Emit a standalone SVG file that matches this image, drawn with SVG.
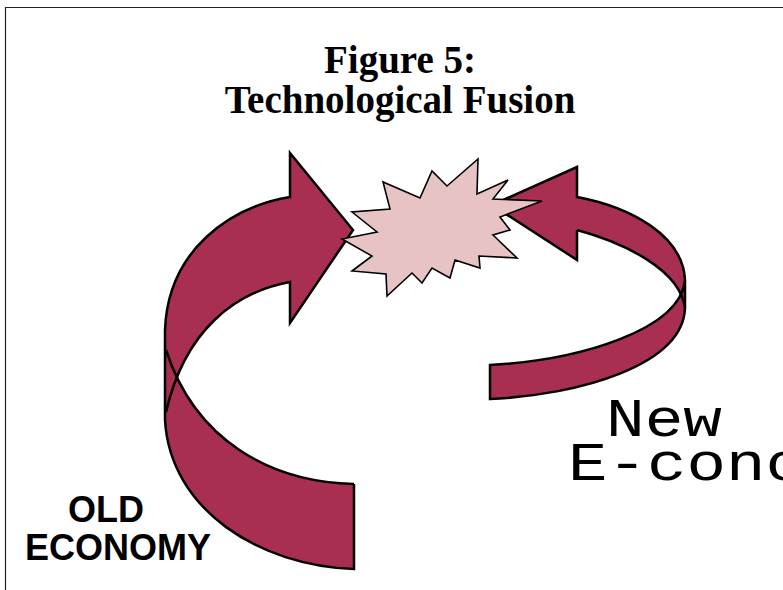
<svg xmlns="http://www.w3.org/2000/svg" width="783" height="590" viewBox="0 0 783 590">
<style>
.band{fill:#A92F52;stroke:none}
.edge{fill:none;stroke:#000;stroke-width:2.5;stroke-linejoin:miter}
.star{fill:#E8C3C4;stroke:#000;stroke-width:1.6;stroke-linejoin:miter}
.title{font-family:"Liberation Serif","Times New Roman",serif;font-weight:bold;font-size:39px;fill:#000;text-anchor:middle}
.old{font-family:"Liberation Sans",Arial,sans-serif;font-weight:bold;font-size:36px;fill:#000}
.new{font-family:"Liberation Mono","Courier New",monospace;font-size:53px;fill:#000}
</style>
<rect x="0" y="0" width="783" height="590" fill="#fff"/>
<g id="frame">
<path d="M5.5,590 L5.5,7.5 L783,7.5" fill="none" stroke="#222" stroke-width="1.2"/>
</g>
<g id="title">
<text class="title" x="400" y="73">Figure 5:</text>
<text class="title" x="400" y="113">Technological Fusion</text>
</g>
<g id="connectors">
<g id="old-arrow">
<path class="band" d="M165,330 C168,250 230,207 290,197 L290,153 L353,230 L290,323 L290,282 C235,292 185,330 166,412 Z"/>
<path class="band" d="M165,345 L165,420 C170,510 260,566 354,569 L354,484 C270,482 195,440 166,350 Z"/>
<path class="edge" d="M354,484 L354,569 C260,566 170,510 165,420 L165,330 C168,250 230,207 290,197 L290,153 L353,230 L290,323 L290,282 C235,292 185,330 166,412"/>
<path class="edge" d="M354,484 C270,482 195,440 166,350"/>
</g>
<g id="new-arrow">
<path class="band" d="M577,197 C630,207 683,235 685,280 L685,308 C680,270 625,243 577,230 L577,260 L492,205 L577,167 Z"/>
<path class="band" d="M685,280 L685,308 C683,365 580,395 490,399 L490,365 C580,360 680,330 685,280 Z"/>
<path class="edge" d="M577,230 L577,260 L492,205 L577,167 L577,197 C630,207 683,235 685,280 L685,308 C683,365 580,395 490,399 L490,365 C580,360 680,330 685,280"/>
<path class="edge" d="M577,230 C625,243 680,270 685,308"/>
</g>
</g>
<g id="fusion">
<polygon class="star" points="342,239 372,256 352,271 386,274 387,296 412,273 422,283 432,268 450,278 455,260 480,268 479,256 517,258 493,235 510,230 500,217 542,201 493,199 508,180 477,194 478,159 447,186 432,171 420,198 383,182 390,209 352,212 377,232"/>
</g>
<g id="old-economy">
<text class="old" x="68" y="522">OLD</text>
<text class="old" x="25" y="560">ECONOMY</text>
</g>
<g id="new-economy">
<text class="new" x="606" y="436" textLength="116" lengthAdjust="spacingAndGlyphs">New</text>
<text class="new" x="568" y="480" textLength="316" lengthAdjust="spacingAndGlyphs">E-conomy</text>
</g>
</svg>
